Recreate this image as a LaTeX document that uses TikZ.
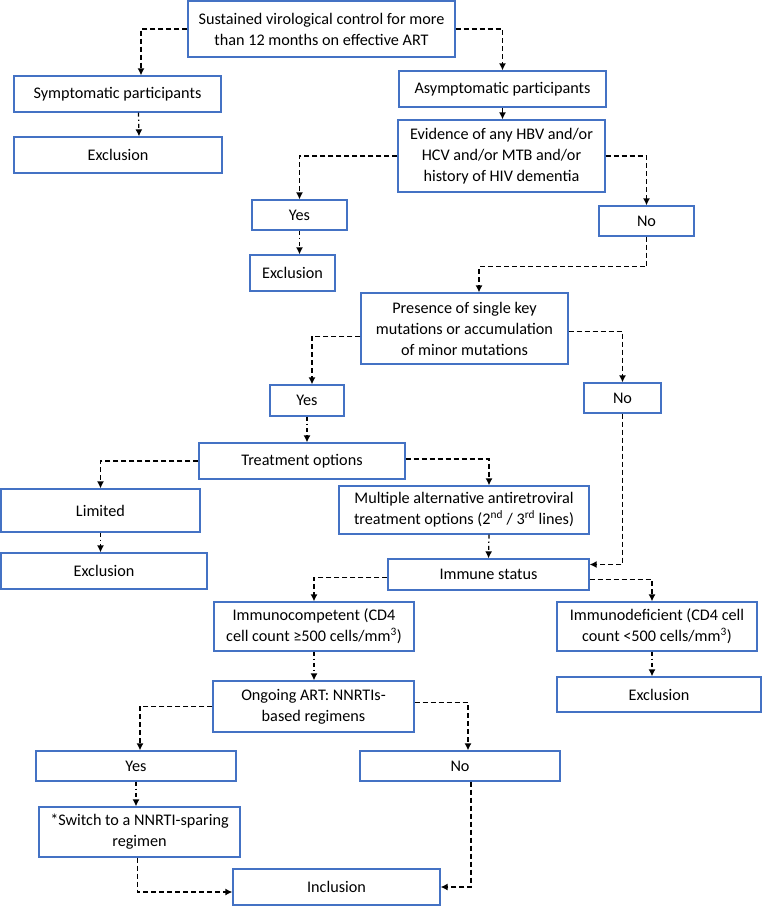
\documentclass[tikz,border=0pt]{standalone}
\usepackage{fontspec}
\setmainfont{Carlito}
\usepackage{tikz}
\usetikzlibrary{arrows.meta}
\definecolor{boxblue}{HTML}{4472C4}

\begin{document}
\begin{tikzpicture}[x=1pt,y=-1pt,
  box/.style={draw=boxblue,line width=1.3pt,fill=white,align=center,inner sep=0pt,font=\fontsize{16.2}{21}\selectfont},
  arr/.style={-{Latex[length=7pt,width=7pt]},line width=1.3pt,dash pattern=on 5pt off 3pt},
  arrdd/.style={arr,dash pattern=on 4pt off 3pt on 1.2pt off 3pt}
]
\useasboundingbox (0,0) rectangle (762,906);

\node[box,minimum width=267pt,minimum height=56pt] (top) at (321.5,29) {Sustained virological control for more\\than 12 months on effective ART};
\node[box,minimum width=207pt,minimum height=36pt] (sympt) at (117.5,94) {Symptomatic participants};
\node[box,minimum width=208pt,minimum height=36pt] (excl1) at (118,155) {Exclusion};
\node[box,minimum width=207pt,minimum height=36pt] (asym) at (502.5,89) {Asymptomatic participants};
\node[box,minimum width=207pt,minimum height=72pt] (evid) at (501.5,156) {Evidence of any HBV and/or\\HCV and/or MTB and/or\\history of HIV dementia};
\node[box,minimum width=95pt,minimum height=30pt] (yes1) at (299.5,215) {Yes};
\node[box,minimum width=85pt,minimum height=36pt] (excl2) at (292.5,273) {Exclusion};
\node[box,minimum width=95pt,minimum height=30pt] (no1) at (646.5,221) {No};
\node[box,minimum width=207pt,minimum height=71pt] (pres) at (464.5,328.5) {Presence of single key\\mutations or accumulation\\of minor mutations};
\node[box,minimum width=74pt,minimum height=31pt] (yes2) at (307,400.5) {Yes};
\node[box,minimum width=77pt,minimum height=30pt] (no2) at (622.5,398) {No};
\node[box,minimum width=206pt,minimum height=36pt] (treat) at (302,461) {Treatment options};
\node[box,minimum width=199pt,minimum height=43pt] (lim) at (100.5,510.5) {Limited};
\node[box,minimum width=206pt,minimum height=36pt] (excl3) at (104,571) {Exclusion};
\node[box,minimum width=250pt,minimum height=48pt] (multi) at (464,510) {Multiple alternative antiretroviral\\treatment options (2\textsuperscript{nd} / 3\textsuperscript{rd} lines)};
\node[box,minimum width=201pt,minimum height=31pt] (immune) at (488.5,574.5) {Immune status};
\node[box,minimum width=200pt,minimum height=49pt] (comp) at (314,626.5) {Immunocompetent (CD4\\cell count ≥500 cells/mm\textsuperscript{3})};
\node[box,minimum width=200pt,minimum height=49pt] (defic) at (657,626.5) {Immunodeficient (CD4 cell\\count <500 cells/mm\textsuperscript{3})};
\node[box,minimum width=204pt,minimum height=35pt] (excl4) at (659,694.5) {Exclusion};
\node[box,minimum width=201pt,minimum height=51pt] (ongo) at (313.5,706.5) {Ongoing ART: NNRTIs-\\based regimens};
\node[box,minimum width=200pt,minimum height=30pt] (yes3) at (136,766) {Yes};
\node[box,minimum width=200pt,minimum height=30pt] (no3) at (460,766) {No};
\node[box,minimum width=201pt,minimum height=50pt] (switch) at (139.5,832) {*Switch to a NNRTI-sparing\\regimen};
\node[box,minimum width=207pt,minimum height=36pt] (incl) at (336.5,887) {Inclusion};

\draw[arr] (top.west) -| ([xshift=23.5pt]sympt.north);
\draw[arr] (top.east) -| (asym.north);
\draw[arrdd] ([xshift=21pt]sympt.south) -- ([xshift=21pt]excl1.north);
\draw[-{Latex[length=7pt,width=7pt]},line width=1.3pt] (asym.south) -- (asym.south |- evid.north);
\draw[arr] (evid.west) -| (yes1.north);
\draw[arr] (evid.east) -| (no1.north);
\draw[arrdd] (yes1.south) -- (yes1.south |- excl2.north);
\draw[arr] (no1.south) -- ++(0,30) -| ([xshift=14.5pt]pres.north);
\draw[arr] ([yshift=-8pt]pres.west) -| ([xshift=5pt]yes2.north);
\draw[arr] ([yshift=-3pt]pres.east) -| (no2.north);
\draw[arrdd] (yes2.south) -- (yes2.south |- treat.north);
\draw[arr] (treat.west) -| (lim.north);
\draw[arr] ([yshift=2pt]treat.east) -| ([xshift=25pt]multi.north);
\draw[arrdd] (lim.south) -- (lim.south |- excl3.north);
\draw[arrdd] ([xshift=25pt]multi.south) -- (immune.north);
\draw[arr] (no2.south) |- ([yshift=10pt]immune.east);
\draw[arr] ([yshift=-3pt]immune.west) -| (comp.north);
\draw[arr] ([yshift=-5pt]immune.east) -| ([xshift=-5pt]defic.north);
\draw[arrdd] (comp.south) -- (comp.south |- ongo.north);
\draw[arrdd] ([xshift=-5pt]defic.south) -- ([xshift=-5pt]defic.south |- excl4.north);
\draw[arr] (ongo.west) -| ([xshift=4pt]yes3.north);
\draw[arr] ([yshift=4pt]ongo.east) -| ([xshift=8pt]no3.north);
\draw[arrdd] (yes3.south) -- (yes3.south |- switch.north);
\draw[arr] ([xshift=-2pt]switch.south) |- ([yshift=-5pt]incl.west);
\draw[arr] ([xshift=11pt]no3.south) |- (incl.east);
\end{tikzpicture}
\end{document}
